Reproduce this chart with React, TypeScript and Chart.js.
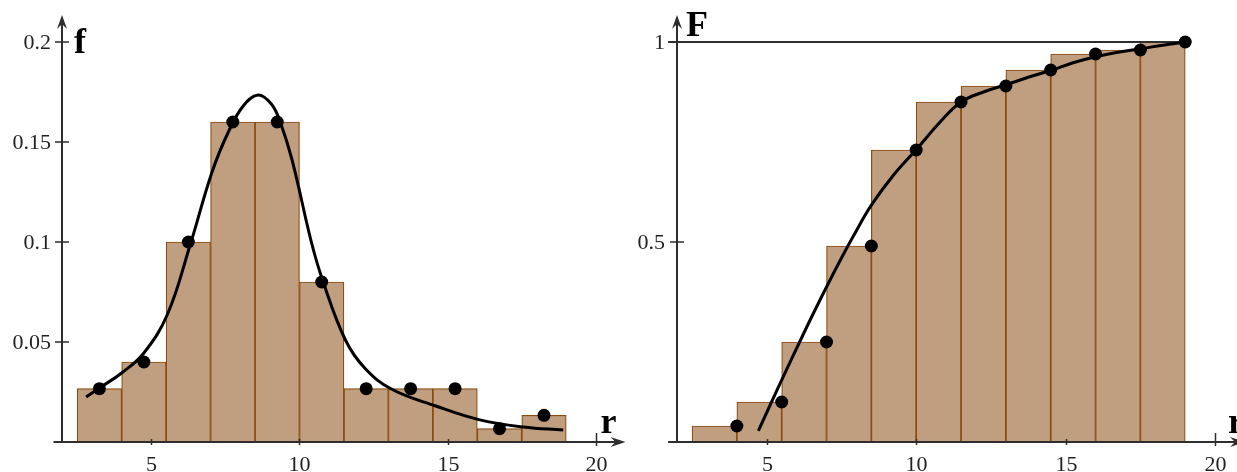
import React, { useEffect, useRef } from "react";
import { Chart, registerables } from "chart.js";

Chart.register(...registerables);

// ---------------- data ----------------
const binCenters = [3.25, 4.75, 6.25, 7.75, 9.25, 10.75, 12.25, 13.75, 15.25, 16.75, 18.25];
const binRightEdges = [4, 5.5, 7, 8.5, 10, 11.5, 13, 14.5, 16, 17.5, 19];
const densityValues = [0.02667, 0.04, 0.1, 0.16, 0.16, 0.08, 0.02667, 0.02667, 0.02667, 0.00667, 0.01333];
const cumulativeValues = [0.04, 0.1, 0.25, 0.49, 0.73, 0.85, 0.89, 0.93, 0.97, 0.98, 1.0];

const densityCurveR = [2.8, 3.25, 4.0, 4.75, 5.55, 6.3, 7.05, 7.6, 8.1, 8.6, 9.05, 9.35, 9.75, 10.4, 10.8, 11.55, 12.2, 13.1, 14.6, 16.05, 17.55, 18.9];
const densityCurveF = [0.0225, 0.027, 0.0345, 0.0445, 0.064, 0.098, 0.135, 0.155, 0.168, 0.1735, 0.169, 0.16, 0.141, 0.1, 0.08, 0.051, 0.037, 0.0265, 0.018, 0.0112, 0.0075, 0.006];

const cdfCurveR = [4.72, 5.1, 5.55, 6.1, 6.55, 7.05, 7.5, 7.9, 8.5, 9.25, 10.05, 10.8, 11.5, 12.25, 13.0, 13.8, 14.55, 15.25, 16.0, 16.7, 17.5, 18.25, 19.0];
const cdfCurveF = [0.028, 0.09, 0.163, 0.25, 0.32, 0.395, 0.46, 0.515, 0.592, 0.668, 0.735, 0.8, 0.85, 0.875, 0.893, 0.913, 0.93, 0.948, 0.963, 0.974, 0.983, 0.992, 1.0];

const unitLineR = [1.7, 19];
const unitLineF = [1, 1];

const xTickValues = [5, 10, 15, 20];
const xTickLabels = ["5", "10", "15", "20"];
const leftYTickValues = [0.05, 0.1, 0.15, 0.2];
const leftYTickLabels = ["0.05", "0.1", "0.15", "0.2"];
const rightYTickValues = [0.5, 1];
const rightYTickLabels = ["0.5", "1"];

// ---------------- styles ----------------
const BAR_FILL = "#C09F80";
const BAR_EDGE = "#8C4A0C";
const AXIS = "#2e2e2e";
const TICK_FONT = "22px 'Liberation Serif', serif";
const NAME_FONT = "bold 36px 'Liberation Serif', serif";

const pts = (xs: number[], ys: number[]) => xs.map((x, i) => ({ x, y: ys[i] }));

const axesPlugin = {
  id: "customAxes",
  afterDatasetsDraw(chart: any, _args: any, opts: any) {
    const { ctx } = chart;
    const xs = chart.scales.x;
    const ys = chart.scales.y;
    const x0 = Math.round(xs.getPixelForValue(opts.crossX));
    const y0 = Math.round(ys.getPixelForValue(0));
    const xStart = xs.getPixelForValue(xs.min);
    const xEnd = xs.getPixelForValue(xs.max);
    const yEnd = ys.getPixelForValue(ys.max);
    ctx.save();
    ctx.strokeStyle = AXIS;
    ctx.fillStyle = AXIS;
    ctx.lineWidth = 2;
    ctx.beginPath();
    ctx.moveTo(xStart, y0);
    ctx.lineTo(xEnd - 8, y0);
    ctx.moveTo(x0, y0);
    ctx.lineTo(x0, yEnd + 8);
    ctx.stroke();
    // arrowheads
    ctx.beginPath();
    ctx.moveTo(xEnd, y0);
    ctx.lineTo(xEnd - 15, y0 - 5);
    ctx.lineTo(xEnd - 10, y0);
    ctx.lineTo(xEnd - 15, y0 + 5);
    ctx.closePath();
    ctx.fill();
    ctx.beginPath();
    ctx.moveTo(x0, yEnd);
    ctx.lineTo(x0 - 5, yEnd + 14);
    ctx.lineTo(x0, yEnd + 9);
    ctx.lineTo(x0 + 5, yEnd + 14);
    ctx.closePath();
    ctx.fill();
    // x ticks
    ctx.lineWidth = 1.5;
    ctx.font = TICK_FONT;
    ctx.fillStyle = "#222";
    ctx.textAlign = "center";
    ctx.textBaseline = "alphabetic";
    opts.xTicks.forEach((v: number, i: number) => {
      const px = Math.round(xs.getPixelForValue(v)) + 0.5;
      const last = i === opts.xTicks.length - 1;
      ctx.beginPath();
      ctx.moveTo(px, y0 - (last ? 9 : 3));
      ctx.lineTo(px, y0 + (last ? 4 : 3));
      ctx.stroke();
      ctx.fillText(opts.xLabels[i], px, y0 + 29);
    });
    // y ticks
    ctx.textAlign = "right";
    ctx.textBaseline = "middle";
    opts.yTicks.forEach((v: number, i: number) => {
      const py = Math.round(ys.getPixelForValue(v));
      ctx.beginPath();
      ctx.moveTo(x0 - 7, py);
      ctx.lineTo(x0 + 7, py);
      ctx.stroke();
      ctx.fillText(opts.yLabels[i], x0 - opts.yLabelGap, py + 1);
    });
    // axis names
    ctx.font = NAME_FONT;
    ctx.textAlign = "left";
    ctx.textBaseline = "alphabetic";
    ctx.fillStyle = "#000";
    ctx.fillText(opts.yName, x0 + opts.yNameDx, yEnd + opts.yNameDy);
    ctx.fillText(opts.xName, xEnd + opts.xNameDx, y0 - 9);
    ctx.restore();
  },
};

function makeConfig(
  barX: number[],
  barY: number[],
  curveR: number[],
  curveY: number[],
  dotX: number[],
  dotY: number[],
  extra: any[],
  xMin: number,
  xMax: number,
  yMax: number,
  padding: any,
  axisOpts: any
): any {
  return {
    type: "bar",
    data: {
      datasets: [
        {
          type: "bar",
          data: pts(barX, barY),
          backgroundColor: BAR_FILL,
          borderColor: BAR_EDGE,
          borderWidth: 1.2,
          barPercentage: 1,
          categoryPercentage: 1,
          order: 4,
        },
        ...extra,
        {
          type: "line",
          data: pts(curveR, curveY),
          borderColor: "#000",
          borderWidth: 3,
          pointRadius: 0,
          tension: 0.4,
          fill: false,
          clip: false,
          order: 2,
        },
        {
          type: "line",
          data: pts(dotX, dotY),
          showLine: false,
          pointRadius: 6.5,
          pointBorderWidth: 0,
          pointBackgroundColor: "#000",
          pointBorderColor: "#000",
          clip: false,
          order: 1,
        },
      ],
    },
    options: {
      responsive: false,
      animation: false,
      events: [],
      layout: { padding },
      plugins: {
        legend: { display: false },
        tooltip: { enabled: false },
        customAxes: axisOpts,
      },
      scales: {
        x: {
          type: "linear",
          min: xMin,
          max: xMax,
          offset: false,
          display: false,
          ticks: { stepSize: 5, includeBounds: false },
        },
        y: { type: "linear", min: 0, max: yMax, display: false },
      },
    },
    plugins: [axesPlugin],
  };
}

export default function App() {
  const leftRef = useRef<HTMLCanvasElement>(null);
  const rightRef = useRef<HTMLCanvasElement>(null);

  useEffect(() => {
    const left = new Chart(
      leftRef.current as HTMLCanvasElement,
      makeConfig(
        binCenters,
        densityValues,
        densityCurveR,
        densityCurveF,
        binCenters,
        densityValues,
        [],
        1.7,
        21,
        0.2135,
        { left: 53.5, right: 2.8, top: 15, bottom: 30 },
        {
          crossX: 2,
          xTicks: xTickValues,
          xLabels: xTickLabels,
          yTicks: leftYTickValues,
          yLabels: leftYTickLabels,
          yLabelGap: 11,
          yName: "f",
          yNameDx: 12,
          yNameDy: 38,
          xName: "r",
          xNameDx: -25,
        }
      )
    );
    const right = new Chart(
      rightRef.current as HTMLCanvasElement,
      makeConfig(
        binCenters,
        cumulativeValues,
        cdfCurveR,
        cdfCurveF,
        binRightEdges,
        cumulativeValues,
        [
          {
            type: "line",
            data: pts(unitLineR, unitLineF),
            borderColor: AXIS,
            borderWidth: 2,
            pointRadius: 0,
            fill: false,
            clip: false,
            order: 3,
          },
        ],
        1.7,
        21,
        1.0675,
        { left: 36.1, right: 7, top: 15, bottom: 30 },
        {
          crossX: 2,
          xTicks: xTickValues,
          xLabels: xTickLabels,
          yTicks: rightYTickValues,
          yLabels: rightYTickLabels,
          yLabelGap: 12,
          yName: "F",
          yNameDx: 9,
          yNameDy: 21,
          xName: "r",
          xNameDx: -17,
        }
      )
    );
    return () => {
      left.destroy();
      right.destroy();
    };
  }, []);

  return (
    <div
      style={{
        position: "fixed",
        left: 0,
        top: 0,
        width: 1237,
        height: 472,
        overflow: "hidden",
        background: "#fff",
      }}
    >
      <canvas
        ref={leftRef}
        width={632}
        height={472}
        style={{ position: "absolute", left: 0, top: 0, width: 632, height: 472 }}
      />
      <canvas
        ref={rightRef}
        width={620}
        height={472}
        style={{ position: "absolute", left: 632, top: 0, width: 620, height: 472 }}
      />
    </div>
  );
}
